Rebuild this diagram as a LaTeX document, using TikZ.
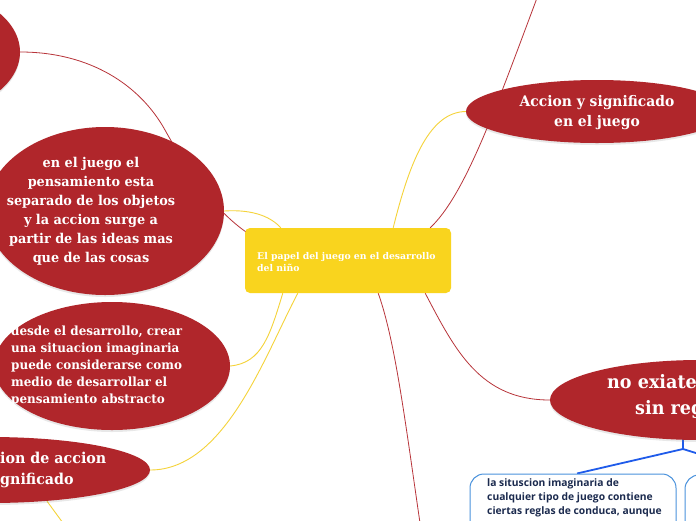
\documentclass[tikz,border=0pt]{standalone}
\usepackage{fontspec}
\setmainfont{DejaVu Serif}
\newfontfamily\slab[FakeStretch=0.95]{DejaVu Serif}
\newfontfamily\bsans{Open Sans}
\usetikzlibrary{shapes.geometric,shadows}
\definecolor{mmred}{HTML}{B0262B}
\definecolor{mmyel}{HTML}{F9D41E}
\definecolor{mmline}{HTML}{F5D33A}
\definecolor{mmredline}{HTML}{B8343A}
\definecolor{mmblue}{HTML}{1F5BEA}
\definecolor{mmbox}{HTML}{4A92DC}
\definecolor{mmtext}{HTML}{1B2A4E}
\pgfdeclarelayer{bg}
\pgfsetlayers{bg,main}
\begin{document}
\begin{tikzpicture}[x=1pt,y=-1pt,
  bubble/.style={ellipse, fill=mmred, draw=none, inner sep=0pt,
    drop shadow={opacity=0.18, shadow xshift=0pt, shadow yshift=-2pt}},
  btxt/.style={text=white, inner sep=0pt},
  redline/.style={draw=mmredline, line width=0.8pt},
  yelline/.style={draw=mmline, line width=0.9pt},
  bluelink/.style={draw=mmblue, line width=1.8pt},
  bluebox/.style={rectangle, rounded corners=14pt, draw=mmbox, line width=1pt, fill=white, inner sep=0pt},
]
\useasboundingbox (0,0) rectangle (696,520);
\clip (0,0) rectangle (696,520);

% nodes (shapes)
\node[bubble, minimum width=200pt, minimum height=128pt] (e1) at (-80,52) {};
\node[bubble, minimum width=238pt, minimum height=168pt] (e2) at (105,211) {};
\node[bubble, minimum width=236pt, minimum height=128pt] (e3) at (112,366) {};
\node[bubble, minimum width=320pt, minimum height=66pt] (e4) at (-10,470) {};
\node[bubble, minimum width=262pt, minimum height=63pt] (e5) at (597,111.5) {};
\node[bubble, minimum width=300pt, minimum height=80pt] (e6) at (700,400) {};
\node[rectangle, rounded corners=5pt, fill=mmyel, minimum width=206pt, minimum height=65pt, inner sep=0pt] (root) at (348,260.5) {};
\node[bluebox, minimum width=206pt, minimum height=90pt] (b1) at (573,519) {};
\node[bluebox, minimum width=160pt, minimum height=90pt] (b2) at (765,520) {};

\coordinate (topend) at (537,-2);
\coordinate (botend) at (420,523);
\coordinate (e4end) at (63,523);
\coordinate (bj) at (683,449);

% connectors, behind the shapes
\begin{pgfonlayer}{bg}
\fill[white] (0,0) rectangle (696,520);
\clip (0,0) rectangle (696,520);
\draw[redline] (e1.east) .. controls (90,52) and (140,85) .. (165,130)
  .. controls (190,175) and (215,210) .. ([xshift=1pt,yshift=-4pt]root.north west);
\draw[redline] ([xshift=-21pt]root.north east) .. controls (465,195) and (495,110) .. (topend);
\draw[redline] ([xshift=-26pt]root.south east) .. controls (455,350) and (480,400) .. (e6.west);
\draw[redline] ([xshift=-73pt]root.south east) .. controls (395,340) and (405,420) .. (botend);
\draw[yelline] (e2.east) .. controls (255,209) and (272,218) .. ([xshift=36pt]root.north west);
\draw[yelline] ([xshift=38pt]root.south west) .. controls (270,335) and (262,363) .. (e3.east);
\draw[yelline] ([xshift=53pt]root.south west) .. controls (265,355) and (225,470) .. (e4.east);
\draw[yelline] ([xshift=57pt,yshift=2pt]e4.south) -- (e4end);
\draw[yelline] ([xshift=-58pt]root.north east) .. controls (410,160) and (430,112) .. (e5.west);
\draw[bluelink] ([xshift=-17pt,yshift=1pt]e6.south) -- (bj);
\draw[bluelink] (bj) -- ([xshift=4pt]b1.north);
\draw[bluelink] (bj) -- (b2.north);
\end{pgfonlayer}

% texts
\node[btxt, font=\slab\bfseries\fontsize{13.5}{19}\selectfont, align=center] (t2) at (91,211)
  {en el juego el\\pensamiento esta\\separado de los objetos\\y la accion surge a\\partir de las ideas mas\\que de las cosas};
\node[btxt, font=\slab\bfseries\fontsize{12.6}{17}\selectfont, align=left, anchor=west] (t3) at (11,366)
  {desde el desarrollo, crear\\una situacion imaginaria\\puede considerarse como\\medio de desarrollar el\\pensamiento abstracto};
\node[btxt, font=\slab\bfseries\fontsize{15}{21}\selectfont, align=left, anchor=west] (t4) at (0,470)
  {ion de accion\\gnificado};
\node[btxt, font=\slab\bfseries\fontsize{14.6}{20}\selectfont, align=center] (t5) at (597,113)
  {Accion y significado\\en el juego};
\node[btxt, font=\slab\bfseries\fontsize{18.5}{26}\selectfont, align=left, anchor=north west] (t6) at (607,374)
  {no exiate\\\hspace*{28pt}sin reg};
\node[text=white, inner sep=0pt, font=\bfseries\fontsize{9.3}{12}\selectfont, align=left, anchor=west] (t0) at (257,262)
  {El papel del juego en el desarrollo\\del niño};
\node[text=mmtext, inner sep=0pt, font=\bsans\bfseries\fontsize{10.3}{14}\selectfont, align=left, anchor=north west] (t7) at (487,478)
  {la situscion imaginaria de\\cualquier tipo de juego contiene\\ciertas reglas de conduca, aunque};
\end{tikzpicture}
\end{document}
